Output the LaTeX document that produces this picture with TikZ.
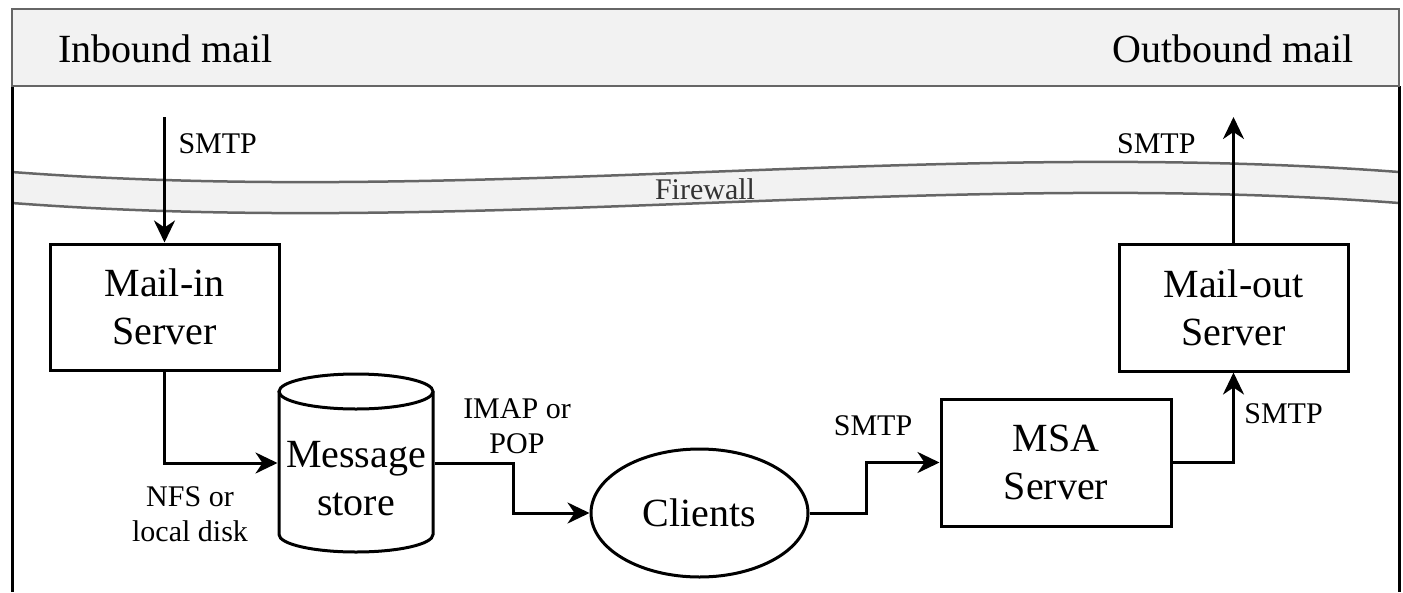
\documentclass[tikz,border=0pt]{standalone}
\usepackage{fontspec}
\setmainfont{Liberation Serif}
\usetikzlibrary{arrows.meta,shapes.geometric}
\definecolor{panelfill}{HTML}{F2F2F2}
\definecolor{panelline}{HTML}{666666}
\definecolor{walltext}{HTML}{333333}

\begin{document}
\begin{tikzpicture}[x=1pt,y=-1pt,
  line width=3pt,
  box/.style={draw, line width=3pt, fill=white, align=center, inner sep=0pt,
    font=\fontsize{40}{48}\selectfont},
  lbl/.style={align=center, inner sep=0pt, font=\fontsize{30}{35}\selectfont},
  flow/.style={draw, line width=3pt, -{Stealth[length=22pt,width=21pt,inset=7pt]}},
  edge/.style={panelline, line width=2.5pt},
]
\useasboundingbox (0,0) rectangle (1403,592);

% firewall band
\fill[panelfill] (12,172) .. controls (474,207) and (937,137) .. (1399,172)
  -- (1399,203) .. controls (937,168) and (474,238) .. (12,203) -- cycle;
\draw[edge] (12,172) .. controls (474,207) and (937,137) .. (1399,172);
\draw[edge] (12,203) .. controls (474,238) and (937,168) .. (1399,203);
\node[lbl, text=walltext, anchor=base] (fw) at (705,199) {Firewall};

% outer frame and title strip
\draw (12,86) -- (12,592);
\draw (1399,86) -- (1399,592);
\draw[edge, fill=panelfill] (12,9) rectangle (1399,86);
\node[font=\fontsize{40}{48}\selectfont, anchor=base west, inner sep=0pt] (inb) at (57,62) {Inbound mail};
\node[font=\fontsize{40}{48}\selectfont, anchor=base east, inner sep=0pt] (outb) at (1355,62) {Outbound mail};

% servers and clients
\node[box, minimum width=229pt, minimum height=126pt] (mailin) at (164.5,307) {Mail-in\\Server};
\node[box, minimum width=229pt, minimum height=127pt] (mailout) at (1233.5,307.5) {Mail-out\\Server};
\node[box, minimum width=230pt, minimum height=127pt] (msa) at (1056,462.5) {MSA\\Server};
\node[box, ellipse, minimum width=217pt, minimum height=128pt] (clients) at (699.5,513) {Clients};

% message store cylinder
\node[draw=none, minimum width=154pt, minimum height=178pt, inner sep=0pt] (store) at (356,463) {};
\fill[white] (279,391.5) -- (279,534.5) arc[start angle=180, end angle=360, x radius=77pt, y radius=17.5pt] -- (433,391.5) -- cycle;
\draw (279,391.5) -- (279,534.5) arc[start angle=180, end angle=360, x radius=77pt, y radius=17.5pt] -- (433,391.5);
\draw[fill=white] (356,391.5) ellipse [x radius=77pt, y radius=17.5pt];
\node[font=\fontsize{40}{48}\selectfont, align=center, inner sep=0pt] (storetext) at (356,479) {Message\\store};

% protocol labels
\node[lbl, anchor=base west] (smtpin) at (177,153) {SMTP};
\node[lbl, anchor=base east] (smtpout) at (1197,153) {SMTP};
\node[lbl] (imap) at (517,426) {IMAP or\\POP};
\node[lbl] (nfs) at (190,514.5) {NFS or\\local disk};
\node[lbl, anchor=base] (smtpmsa) at (873,435) {SMTP};
\node[lbl, anchor=base] (smtprelay) at (1283.5,423) {SMTP};

% connectors
\coordinate (inTop) at (164.5,117);
\coordinate (outTop) at (1233.5,117);
\draw[flow] (inTop) -- (mailin.north);
\draw[flow] (mailin.south) |- (store.west);
\draw[flow] (store.east) -- ++(79,0) |- (clients.west);
\draw[flow] (clients.east) -- ++(57,0) |- (msa.west);
\draw[flow] (msa.east) -| (mailout.south);
\draw[flow] (mailout.north) -- (outTop);
\end{tikzpicture}
\end{document}
